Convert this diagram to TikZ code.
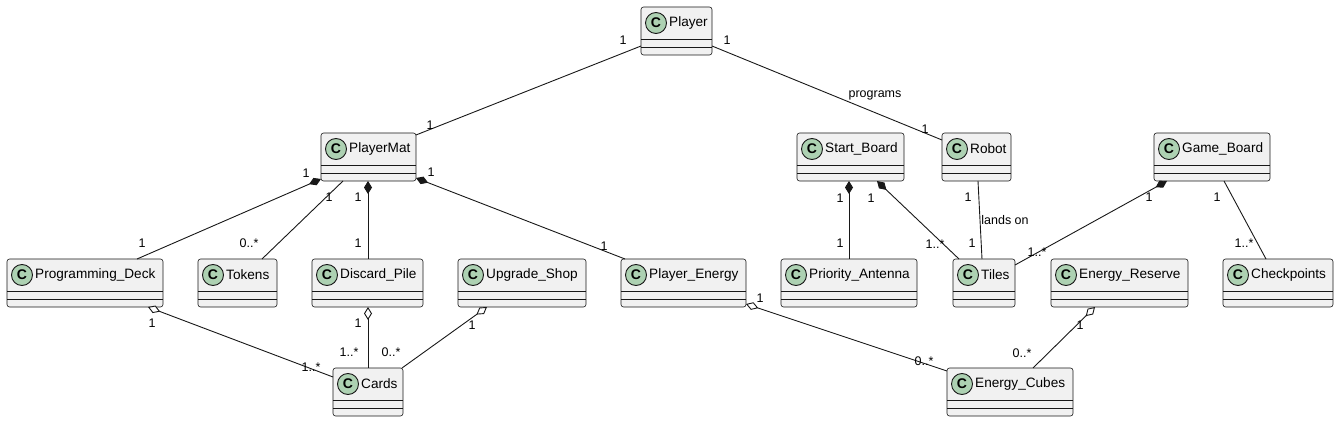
\documentclass[tikz,border=0pt]{standalone}
\usepackage{fontspec}
\setmainfont{Liberation Sans}
\usetikzlibrary{arrows.meta,calc}
\definecolor{boxfill}{HTML}{F1F1F1}
\definecolor{ink}{HTML}{181818}
\definecolor{badge}{HTML}{ADD1B2}
\tikzset{
  classbox/.style={draw=ink, line width=0.6pt, fill=boxfill, rounded corners=2.5pt,
    minimum height=48pt, inner sep=0pt, outer sep=0pt},
  sepline/.style={draw=ink, line width=0.5pt},
  cbadge/.style={circle, draw=ink, line width=0.9pt, fill=badge, minimum size=21pt, inner sep=0pt,
    font=\fontsize{14}{14}\selectfont\bfseries},
  cname/.style={anchor=west, inner sep=0pt, font=\fontsize{13.6}{14}\selectfont},
  lbl/.style={inner sep=0pt, font=\fontsize{12.5}{13}\selectfont},
  assoc/.style={draw=ink, line width=0.9pt},
  comp/.style={assoc, {Diamond[length=13pt,width=8pt,fill=ink]}-},
  aggr/.style={assoc, {Diamond[length=13pt,width=8pt,open,fill=white]}-},
}
\newcommand\umlclass[5]{%
  \node[classbox, minimum width={#5-#3}, anchor=north west] (#1) at (#3,#4) {};
  \draw[sepline] ([yshift=-32pt]#1.north west) -- ([yshift=-32pt]#1.north east);
  \draw[sepline] ([yshift=-40pt]#1.north west) -- ([yshift=-40pt]#1.north east);
  \node[cbadge] (#1c) at ([xshift=15pt,yshift=-16pt]#1.north west) {C};
  \node[cname] (#1t) at ([xshift=28pt,yshift=-16pt]#1.north west) {#2};
}
\begin{document}
\begin{tikzpicture}[x=1pt,y=-1pt]
\useasboundingbox (0,0) rectangle (1339,422);
% row 1
\umlclass{pl}{Player}{641}{7}{712}
% row 2
\umlclass{pm}{PlayerMat}{321}{133}{416}
\umlclass{sb}{Start\_Board}{797}{133}{904}
\umlclass{rb}{Robot}{942}{133}{1011}
\umlclass{gb}{Game\_Board}{1154}{133}{1270}
% row 3
\umlclass{pd}{Programming\_Deck}{7}{259}{163}
\umlclass{tk}{Tokens}{198}{259}{277}
\umlclass{dp}{Discard\_Pile}{312}{259}{423}
\umlclass{us}{Upgrade\_Shop}{458}{259}{586}
\umlclass{pe}{Player\_Energy}{621}{259}{746}
\umlclass{pa}{Priority\_Antenna}{781}{259}{917}
\umlclass{ti}{Tiles}{953}{259}{1015}
\umlclass{er}{Energy\_Reserve}{1051}{259}{1188}
\umlclass{cp}{Checkpoints}{1223}{259}{1333}
% row 4
\umlclass{cd}{Cards}{333}{368}{403}
\umlclass{ec}{Energy\_Cubes}{947}{368}{1073}

% connectors
\draw[assoc] ([yshift=-39pt]pl.north west) -- ([yshift=-2pt]pm.north east);
\draw[assoc] ([yshift=-39pt]pl.north east) -- ([yshift=-7pt]rb.north west);
\draw[comp] ([yshift=2pt]pm.south west) -- ([xshift=130pt]pd.north west);
\draw[assoc] ([xshift=22pt]pm.south west) -- ([xshift=64pt]tk.north west);
\draw[comp] ([xshift=47pt]pm.south west) -- ([xshift=56pt]dp.north west);
\draw[comp] ([yshift=3pt]pm.south east) -- ([xshift=4pt]pe.north west);
\draw[aggr] ([xshift=141pt]pd.south west) -- ([yshift=-9pt]cd.north west);
\draw[aggr] ([xshift=56pt]dp.south west) -- ([xshift=35pt]cd.north west);
\draw[aggr] ([xshift=29pt]us.south west) -- ([xshift=-1pt]cd.north east);
\draw[aggr] ([yshift=3pt]pe.south east) -- ([yshift=-3pt]ec.north west);
\draw[comp] ([xshift=52pt]sb.south west) -- ([xshift=68pt]pa.north west);
\draw[comp] ([xshift=80pt]sb.south west) -- ([xshift=6pt]ti.north west);
\draw[assoc] ([xshift=36pt]rb.south west) -- ([xshift=29pt]ti.north west);
\draw[comp] ([xshift=13pt]gb.south west) -- ([yshift=-6pt]ti.north east);
\draw[assoc] ([xshift=70pt]gb.south west) -- ([xshift=43pt]cp.north west);
\draw[aggr] ([xshift=44pt]er.south west) -- ([xshift=86pt]ec.north west);

% labels
\node[lbl] (l1a) at (623,40) {1};
\node[lbl] (l1b) at (430,125) {1};
\node[lbl] (l2a) at (727,40) {1};
\node[lbl] (l2b) at (925,129) {1};
\node[lbl] (l2c) at (875,95) {programs};
\node[lbl] (l3a) at (306,173) {1};
\node[lbl] (l3b) at (142,243) {1};
\node[lbl] (l4a) at (329,197) {1};
\node[lbl] (l4b) at (249,243) {0..*};
\node[lbl] (l5a) at (358,197) {1};
\node[lbl] (l5b) at (358,243) {1};
\node[lbl] (l6a) at (431,172) {1};
\node[lbl] (l6b) at (604,246) {1};
\node[lbl] (l7a) at (152,323) {1};
\node[lbl] (l7b) at (311,367) {1..*};
\node[lbl] (l8a) at (358,323) {1};
\node[lbl] (l8b) at (349,352) {1..*};
\node[lbl] (l9a) at (472,325) {1};
\node[lbl] (l9b) at (391,352) {0..*};
\node[lbl] (l10a) at (760,298) {1};
\node[lbl] (l10b) at (924,361) {0..*};
\node[lbl] (l11a) at (840,198) {1};
\node[lbl] (l11b) at (840,243) {1};
\node[lbl] (l12a) at (871,198) {1};
\node[lbl] (l12b) at (935,244) {1..*};
\node[lbl] (l13a) at (968,197) {1};
\node[lbl] (l13b) at (972,243) {1};
\node[lbl] (l13c) at (1005,220) {lands on};
\node[lbl] (l14a) at (1149,197) {1};
\node[lbl] (l14b) at (1037,252) {1..*};
\node[lbl] (l15a) at (1217,197) {1};
\node[lbl] (l15b) at (1244,243) {1..*};
\node[lbl] (l16a) at (1080,325) {1};
\node[lbl] (l16b) at (1022,353) {0..*};
\end{tikzpicture}
\end{document}
